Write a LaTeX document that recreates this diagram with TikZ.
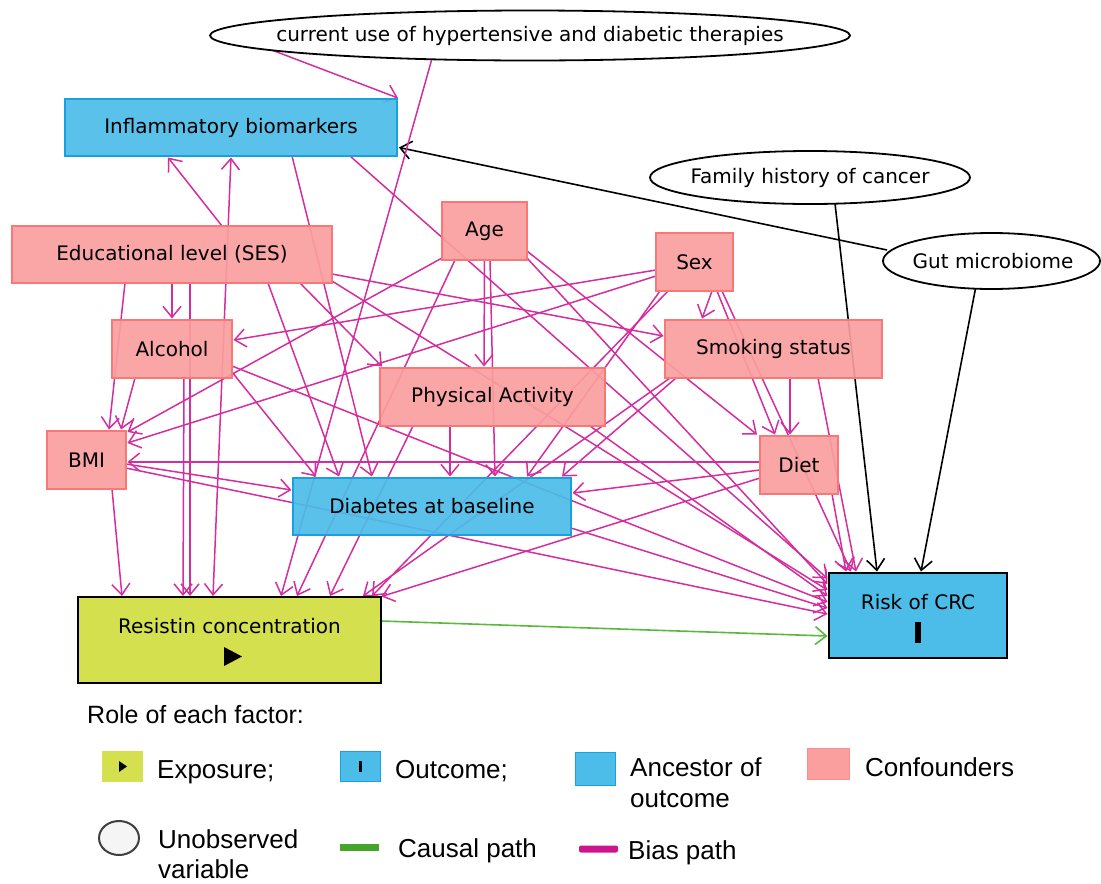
\documentclass[tikz,border=0pt]{standalone}
\usepackage{fontspec}
\setmainfont{DejaVu Sans}
\newfontfamily\legfont{Liberation Sans}
\usetikzlibrary{shapes.geometric,arrows.meta}
\pgfdeclarelayer{bg}
\pgfsetlayers{bg,main}
\definecolor{confFill}{RGB}{250,158,158}
\definecolor{confDraw}{RGB}{248,120,120}
\definecolor{ancFill}{RGB}{76,188,232}
\definecolor{ancDraw}{RGB}{25,160,222}
\definecolor{expFill}{RGB}{212,224,78}
\definecolor{biasCol}{RGB}{212,45,158}
\definecolor{biasLeg}{RGB}{205,20,140}
\definecolor{causalCol}{RGB}{90,185,60}
\definecolor{causalLeg}{RGB}{70,165,40}
\newcommand\edg[5][bias]{\draw[#1] ([shift={#3}]#2.center) -- ([shift={#5}]#4.center);}
\tikzset{
  nfont/.style={font=\fontsize{20}{23}\selectfont},
  box/.style={rectangle, inner sep=0pt, nfont, fill opacity=0.92, text opacity=1},
  conf/.style={box, fill=confFill, draw=confDraw, line width=1.5pt},
  anc/.style={box, fill=ancFill, draw=ancDraw, line width=1.5pt},
  keybox/.style={box, fill opacity=1, draw=black, line width=2.5pt},
  unobs/.style={ellipse, draw=black, line width=1.8pt, fill=white, inner sep=0pt},
  lbl/.style={nfont, inner sep=0pt},
  tip/.style={-{Straight Barb[length=11pt,width=18pt]}},
  bias/.style={draw=biasCol, line width=1.5pt, tip},
  biasboth/.style={draw=biasCol, line width=1.5pt, {Straight Barb[length=11pt,width=18pt]}-{Straight Barb[length=11pt,width=18pt]}},
  blk/.style={draw=black, line width=1.6pt, tip},
  causal/.style={draw=causalCol, line width=1.6pt, tip},
  leg/.style={font=\legfont\fontsize{26}{30}\selectfont, inner sep=0pt, anchor=base west},
}
\begin{document}
\begin{tikzpicture}[x=1pt,y=-1pt]
\useasboundingbox (0,0) rectangle (1101,884);
% ---------------- nodes ----------------
\node[unobs, minimum width=640pt, minimum height=50pt] (T) at (530,35.5) {};
\node[lbl] (TT) at (530,35.5) {current use of hypertensive and diabetic therapies};
\node[unobs, minimum width=320pt, minimum height=53pt] (FH) at (810,177.5) {};
\node[lbl] (FHT) at (810,177.5) {Family history of cancer};
\node[unobs, minimum width=217pt, minimum height=56pt] (GM) at (991.5,261) {};
\node[lbl] (GMT) at (993,261) {Gut microbiome};
\node[anc, minimum width=332pt, minimum height=57pt] (IB) at (231,127.5) {Inflammatory biomarkers};
\node[conf, minimum width=320pt, minimum height=57pt] (SES) at (172,254.5) {Educational level (SES)};
\node[conf, minimum width=85pt, minimum height=58pt] (Age) at (484.5,231) {Age};
\node[conf, minimum width=77pt, minimum height=58pt] (Sex) at (694.5,262) {Sex};
\node[conf, minimum width=120pt, minimum height=58pt] (Alc) at (172,349) {Alcohol};
\node[conf, minimum width=217pt, minimum height=58pt] (Smk) at (773.5,349) {Smoking status};
\node[conf, minimum width=225pt, minimum height=58pt] (PA) at (492.5,397) {Physical Activity};
\node[conf, minimum width=79pt, minimum height=58pt] (BMI) at (86.5,460) {BMI};
\node[conf, minimum width=78pt, minimum height=58pt] (Diet) at (799,465) {Diet};
\node[anc, minimum width=278pt, minimum height=57pt] (DB) at (432,506.5) {Diabetes at baseline};
\node[keybox, fill=expFill, minimum width=303pt, minimum height=86pt] (Res) at (229.5,640) {};
\node[lbl] (ResT) at (229.5,626) {Resistin concentration};
\fill (224,647) -- (224,666) -- (242,656.5) -- cycle;
\node[keybox, fill=ancFill, minimum width=178pt, minimum height=85pt] (CRC) at (918,615.5) {};
\node[lbl] (CRCT) at (918,602) {Risk of CRC};
\fill (915,622) rectangle (921,643);
% ---------------- edges ----------------
\begin{pgfonlayer}{bg}
\edg[blk]{GM}{(-104.5,-11)}{IB}{(168,20)}
\edg[blk]{FH}{(25,26)}{CRC}{(-41,-44)}
\edg[blk]{GM}{(-16,27.5)}{CRC}{(3,-44)}
\edg[causal]{Res}{(151.5,-19)}{CRC}{(-90.5,20.5)}
\edg{T}{(-257,15)}{IB}{(167,-29.5)}
\edg{T}{(-98,23)}{Res}{(51.5,-44)}
\edg{IB}{(61,28.5)}{DB}{(-60,-30)}
\edg{IB}{(119,28.5)}{CRC}{(-90.5,-37)}
\edg[biasboth]{IB}{(0,30)}{Res}{(-16.5,-44)}
\edg{SES}{(50,-28.5)}{IB}{(-63,30)}
\edg{SES}{(0,28.5)}{Alc}{(0,-30.5)}
\edg{SES}{(-47,28.5)}{BMI}{(22.5,-30.5)}
\edg{SES}{(18,28.5)}{Res}{(-39.5,-44)}
\edg{Alc}{(12,29)}{Res}{(-46.5,-44)}
\edg{SES}{(160,19.5)}{Smk}{(-110,-13)}
\edg{SES}{(128,28.5)}{PA}{(-110.5,-30.5)}
\edg{SES}{(96,28.5)}{DB}{(-93,-30)}
\edg{SES}{(160,26.5)}{CRC}{(-90.5,-25.5)}
\edg{Age}{(-42.5,27)}{BMI}{(41,-28)}
\edg{Age}{(0,29)}{PA}{(-8.5,-30.5)}
\edg{Age}{(5.5,29)}{DB}{(63,-30)}
\edg{Age}{(-29.5,29)}{Res}{(67.5,-44)}
\edg{Age}{(42.5,27)}{CRC}{(-90.5,-31.5)}
\edg{Age}{(42.5,20)}{Diet}{(-42,-30.5)}
\edg{Sex}{(-38.5,8)}{Alc}{(61.5,-9)}
\edg{Sex}{(-38.5,14)}{BMI}{(41,-17)}
\edg{Sex}{(17.5,29)}{Smk}{(-71.5,-30.5)}
\edg{Sex}{(22.5,29)}{Diet}{(-24,-30.5)}
\edg{Sex}{(27.5,29)}{CRC}{(-67,-44)}
\edg{Sex}{(-34.5,29)}{DB}{(95,-30)}
\edg{Sex}{(-26.5,29)}{Res}{(142.5,-44)}
\edg{Alc}{(-37,29)}{BMI}{(34.5,-30.5)}
\edg{Alc}{(60,23)}{DB}{(-116,-30)}
\edg{Alc}{(60,17)}{CRC}{(-90.5,-13.5)}
\edg{Smk}{(16.5,29)}{Diet}{(-9,-30.5)}
\edg{Smk}{(44.5,29)}{CRC}{(-62,-44)}
\edg{Smk}{(-97.5,29)}{DB}{(130,-30)}
\edg{Smk}{(-103.5,29)}{Res}{(133.5,-44)}
\edg{PA}{(-42.5,29)}{DB}{(18,-30)}
\edg{PA}{(-79.5,29)}{Res}{(100.5,-44)}
\edg{PA}{(97.5,29)}{CRC}{(-90.5,-19.5)}
\edg{BMI}{(39.5,4)}{DB}{(-140.5,-16.5)}
\edg{BMI}{(25.5,29)}{Res}{(-107.5,-44)}
\edg{BMI}{(39.5,8)}{CRC}{(-90.5,-1.5)}
\edg{Diet}{(-39,-3)}{BMI}{(41,2)}
\edg{Diet}{(-39,5)}{DB}{(140.5,-13.5)}
\edg{Diet}{(-39,13)}{Res}{(152,-43.5)}
\edg{Diet}{(33,29)}{CRC}{(-72,-44)}
\edg{DB}{(139,21.5)}{CRC}{(-90.5,-7.5)}
\end{pgfonlayer}
% ---------------- legend ----------------
\node[leg, font=\legfont\fontsize{25}{30}\selectfont] (LRole) at (87,723) {Role of each factor:};
\node[fill=expFill, inner sep=0pt, minimum width=41pt, minimum height=31pt] (LExpS) at (122.5,766.5) {};
\fill (119,761) -- (119,772) -- (127,766.5) -- cycle;
\node[leg] (LExp) at (157,778) {Exposure;};
\node[fill=ancFill, draw=ancDraw, line width=1pt, inner sep=0pt, minimum width=40pt, minimum height=30pt] (LOutS) at (360,766.5) {};
\fill (358.5,761) rectangle (361.5,772);
\node[leg] (LOut) at (395,778) {Outcome;};
\node[fill=ancFill, draw=ancDraw, line width=1pt, inner sep=0pt, minimum width=40pt, minimum height=33pt] (LAncS) at (595,769) {};
\node[leg] (LAnc1) at (630,776) {Ancestor of};
\node[leg] (LAnc2) at (630,807) {outcome};
\node[fill=confFill, draw=confFill!90!red, line width=1pt, inner sep=0pt, minimum width=42pt, minimum height=31pt] (LConfS) at (828.5,763.5) {};
\node[leg] (LConf) at (865,776) {Confounders};
\node[ellipse, draw=black!75, line width=2pt, fill=black!4, inner sep=0pt, minimum width=40pt, minimum height=34pt] (LUnS) at (119,838) {};
\node[leg] (LUn1) at (158,848) {Unobserved};
\node[leg] (LUn2) at (158,878) {variable};
\node[fill=causalLeg, inner sep=0pt, minimum width=39pt, minimum height=7pt] (LCauS) at (359.5,847) {};
\node[leg] (LCau) at (398,857) {Causal path};
\node[fill=biasLeg, rounded corners=2pt, inner sep=0pt, minimum width=39pt, minimum height=7pt] (LBiaS) at (598.5,849) {};
\node[leg] (LBia) at (628,859) {Bias path};
\end{tikzpicture}
\end{document}
